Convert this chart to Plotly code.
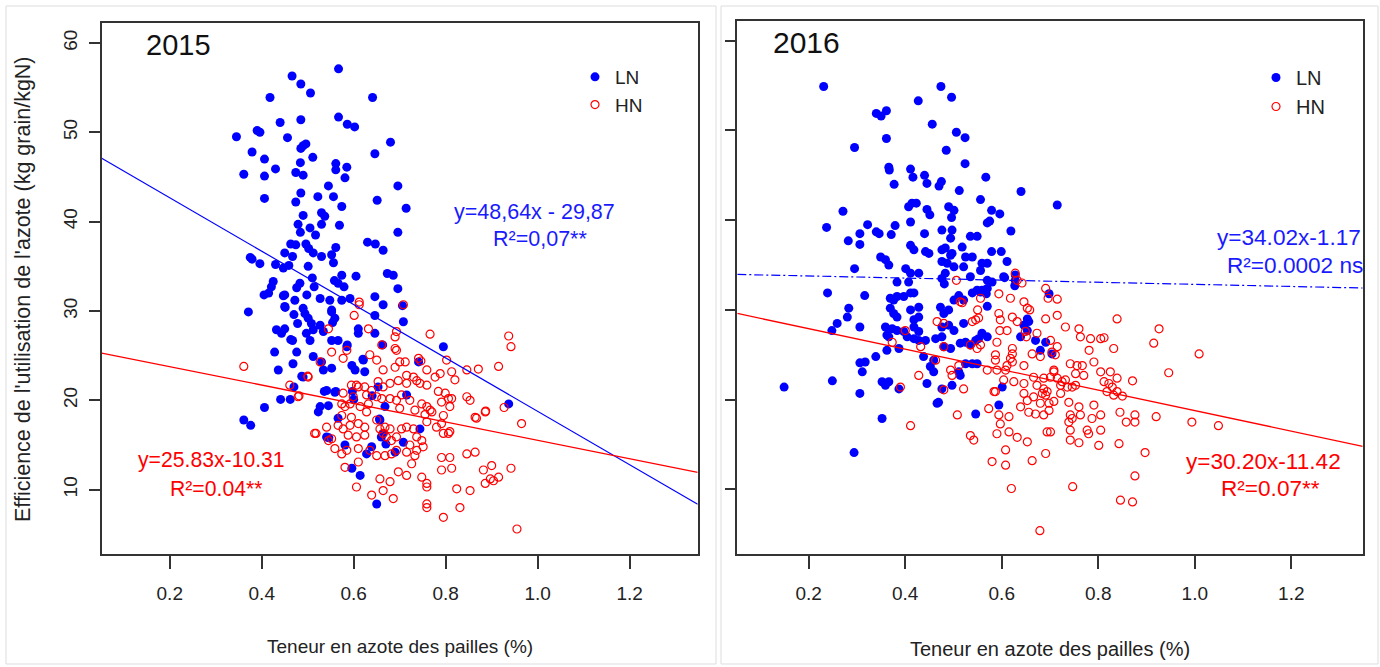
import plotly.graph_objects as go

# Nitrogen use efficiency vs straw N content, two seasons, LN / HN plots
ln_2015 = [
    (0.345, 49.5), (0.361, 45.3), (0.379, 47.8), (0.390, 50.2), (0.396, 50.0), (0.406, 47.0), (0.406, 45.1), (0.406, 42.6),
    (0.418, 53.9), (0.430, 45.9), (0.440, 51.1), (0.456, 49.4), (0.466, 56.3), (0.485, 55.4), (0.506, 54.4), (0.567, 57.1),
    (0.641, 53.9), (0.485, 51.4), (0.567, 51.7), (0.586, 50.9), (0.602, 50.6), (0.485, 48.2), (0.490, 48.5), (0.496, 48.7),
    (0.680, 48.9), (0.511, 47.2), (0.484, 46.6), (0.561, 46.5), (0.561, 45.8), (0.585, 46.1), (0.646, 47.6), (0.474, 45.5),
    (0.490, 45.2), (0.581, 44.9), (0.545, 44.0), (0.696, 44.0), (0.485, 43.2), (0.474, 42.2), (0.522, 42.8), (0.556, 42.8),
    (0.651, 42.4), (0.574, 41.7), (0.714, 41.5), (0.490, 40.7), (0.530, 41.0), (0.537, 40.6), (0.530, 39.7), (0.479, 39.7),
    (0.484, 38.8), (0.505, 39.3), (0.517, 38.5), (0.569, 39.6), (0.696, 38.8), (0.463, 37.5), (0.474, 37.4), (0.496, 37.5),
    (0.502, 37.0), (0.512, 36.5), (0.530, 36.1), (0.561, 37.1), (0.630, 37.7), (0.647, 37.5), (0.664, 36.8), (0.450, 36.5),
    (0.467, 36.1), (0.552, 36.3), (0.556, 35.4), (0.430, 35.2), (0.447, 34.8), (0.459, 35.1), (0.501, 35.0), (0.673, 34.2),
    (0.686, 34.0), (0.605, 33.9), (0.574, 34.0), (0.558, 33.4), (0.579, 32.7), (0.566, 33.1), (0.425, 33.3), (0.483, 33.1),
    (0.476, 32.6), (0.510, 33.7), (0.514, 32.7), (0.696, 32.5), (0.375, 36.0), (0.379, 35.8), (0.396, 35.3), (0.371, 29.9),
    (0.405, 31.8), (0.415, 32.0), (0.421, 32.7),
    (0.450, 31.8), (0.450, 30.5), (0.472, 31.2), (0.490, 30.3), (0.494, 29.7), (0.498, 31.8), (0.501, 29.2), (0.508, 28.6),
    (0.512, 27.9), (0.497, 27.5), (0.505, 26.7), (0.527, 31.4), (0.527, 28.4), (0.534, 27.7), (0.548, 31.2), (0.552, 29.9),
    (0.559, 29.2), (0.552, 26.7), (0.566, 26.7), (0.574, 31.2), (0.592, 31.4), (0.432, 27.9), (0.443, 27.5), (0.450, 28.0),
    (0.467, 26.7), (0.476, 25.4), (0.468, 24.1), (0.428, 25.4), (0.436, 23.4), (0.512, 24.9), (0.530, 24.3), (0.534, 23.4),
    (0.552, 23.6), (0.490, 22.6), (0.586, 26.2), (0.596, 23.9), (0.603, 23.4), (0.621, 24.5), (0.624, 23.2), (0.610, 28.0),
    (0.610, 27.5), (0.646, 27.5), (0.646, 29.5), (0.663, 26.2), (0.646, 31.6), (0.664, 30.7), (0.708, 28.8),
    (0.441, 20.1), (0.406, 19.2), (0.361, 17.8), (0.376, 17.2), (0.462, 20.1), (0.470, 21.5), (0.527, 19.3), (0.545, 19.4),
    (0.523, 18.7), (0.541, 21.1), (0.559, 20.9), (0.566, 18.0), (0.581, 15.0), (0.541, 15.9), (0.546, 15.8), (0.596, 12.4),
    (0.614, 11.6), (0.628, 14.0), (0.639, 14.8), (0.650, 8.4), (0.653, 21.5), (0.668, 19.3), (0.657, 17.8), (0.715, 20.6),
    (0.708, 15.3), (0.690, 14.2), (0.744, 16.8), (0.795, 26.0), (0.741, 24.3), (0.937, 19.6), (0.600, 20.1), (0.597, 21.0),
    (0.640, 20.5), (0.660, 15.9), (0.664, 16.3), (0.670, 15.1), (0.656, 17.9), (0.561, 21.0), (0.536, 21.0), (0.620, 24.6),
    (0.585, 26.0), (0.706, 30.6), (0.552, 30.1), (0.554, 28.7), (0.463, 26.8), (0.470, 29.6), (0.478, 28.6), (0.451, 30.4),
    (0.447, 31.7), (0.487, 22.7),
]

hn_2015 = [
    (0.361, 23.8), (0.461, 21.7), (0.481, 20.5), (0.500, 22.7), (0.518, 16.3),
    (0.612, 31.0), (0.612, 30.7), (0.601, 29.5), (0.708, 30.7), (0.632, 28.0), (0.545, 28.0), (0.693, 27.7), (0.690, 27.1),
    (0.766, 27.4), (0.661, 26.2), (0.690, 25.8), (0.693, 25.6), (0.585, 25.6), (0.577, 24.7), (0.552, 25.4), (0.635, 25.1),
    (0.650, 24.5), (0.527, 24.3), (0.712, 24.3), (0.700, 24.3), (0.741, 24.7), (0.746, 24.4), (0.802, 24.5), (0.846, 23.4),
    (0.871, 23.5), (0.915, 23.8), (0.664, 23.4), (0.690, 23.7), (0.715, 22.8), (0.730, 22.6), (0.759, 23.4), (0.777, 22.6),
    (0.788, 23.0), (0.813, 23.2), (0.820, 22.3), (0.501, 22.6), (0.479, 20.4), (0.606, 21.7), (0.610, 21.5), (0.595, 21.7),
    (0.624, 21.5), (0.639, 21.1), (0.628, 20.6), (0.653, 22.1), (0.664, 21.5), (0.679, 21.9), (0.697, 22.2), (0.715, 21.9),
    (0.737, 22.2), (0.744, 21.9), (0.759, 21.7), (0.784, 21.0), (0.799, 20.8), (0.806, 20.2), (0.813, 20.2), (0.846, 20.4),
    (0.853, 20.0), (0.577, 20.8), (0.599, 20.4), (0.592, 19.6), (0.574, 19.6), (0.581, 19.3), (0.614, 19.3), (0.628, 18.7),
    (0.632, 19.6), (0.650, 20.4), (0.661, 20.2), (0.679, 20.2), (0.693, 20.0), (0.704, 20.6), (0.700, 19.1), (0.722, 20.0),
    (0.733, 18.9), (0.748, 19.6), (0.759, 19.3), (0.766, 18.9), (0.755, 18.4), (0.770, 18.7), (0.791, 19.8), (0.795, 18.3),
    (0.809, 19.3), (0.864, 18.1), (0.886, 18.7), (0.759, 17.6), (0.780, 17.0), (0.791, 17.4), (0.795, 16.3), (0.806, 16.3),
    (0.809, 16.5), (0.515, 16.3), (0.541, 17.0), (0.545, 15.5), (0.552, 15.7), (0.574, 18.3), (0.595, 18.1), (0.610, 17.4),
    (0.624, 17.0), (0.566, 17.2), (0.577, 16.8), (0.592, 17.2), (0.588, 16.1), (0.606, 15.9), (0.624, 16.1), (0.650, 17.8),
    (0.657, 16.8), (0.668, 17.0), (0.679, 16.8), (0.664, 16.3), (0.671, 15.9), (0.682, 15.5), (0.693, 15.9), (0.704, 16.8),
    (0.715, 17.0), (0.730, 16.8), (0.737, 15.9), (0.748, 15.5), (0.722, 15.0), (0.737, 14.4), (0.751, 14.8), (0.733, 13.8),
    (0.559, 14.6), (0.574, 14.0), (0.585, 14.4), (0.610, 14.6), (0.635, 14.4), (0.650, 13.8), (0.668, 13.8), (0.682, 14.0),
    (0.693, 14.4), (0.715, 14.2), (0.610, 13.1), (0.581, 12.5), (0.657, 11.2), (0.679, 10.9), (0.697, 12.0), (0.715, 11.6),
    (0.606, 10.3), (0.664, 9.9), (0.639, 9.4), (0.686, 9.0), (0.726, 12.9), (0.748, 11.4), (0.759, 10.7), (0.759, 10.3),
    (0.759, 8.4), (0.759, 8.0), (0.795, 6.9), (0.831, 8.0), (0.791, 13.6), (0.809, 13.6), (0.813, 12.4), (0.791, 12.2),
    (0.824, 10.1), (0.853, 9.9), (0.882, 12.2), (0.900, 12.7), (0.904, 11.0), (0.886, 10.7), (0.915, 11.4), (0.897, 11.2),
    (0.846, 14.0), (0.864, 14.2), (0.937, 27.2), (0.942, 26.0), (0.927, 19.2), (0.965, 17.4), (0.942, 12.4),
    (0.955, 5.6), (0.887, 18.8), (0.867, 18.0),
]

ln_2016 = [
    (0.231, 54.9), (0.474, 54.9), (0.496, 53.7), (0.427, 53.3), (0.340, 51.9), (0.350, 51.6), (0.361, 52.2), (0.456, 50.7),
    (0.506, 49.8), (0.524, 49.2), (0.361, 49.1), (0.295, 48.1), (0.485, 47.8), (0.524, 46.3), (0.366, 45.9), (0.367, 45.6),
    (0.411, 45.7), (0.416, 44.8), (0.440, 45.0), (0.445, 44.1), (0.470, 43.8), (0.475, 44.3), (0.377, 44.0), (0.567, 44.8),
    (0.512, 43.3), (0.271, 41.0), (0.237, 39.2), (0.322, 39.5), (0.306, 38.5), (0.306, 37.3), (0.282, 37.7), (0.340, 38.7),
    (0.346, 38.5), (0.371, 38.4), (0.379, 39.4), (0.295, 34.6), (0.239, 31.9), (0.316, 31.6), (0.556, 42.3), (0.407, 41.5),
    (0.414, 41.9), (0.423, 41.9), (0.445, 41.2), (0.451, 40.6), (0.411, 39.8), (0.490, 41.5), (0.501, 41.1), (0.496, 40.3),
    (0.440, 38.5), (0.476, 38.9), (0.497, 38.9), (0.494, 38.0), (0.535, 38.2), (0.549, 38.2), (0.570, 39.7), (0.411, 37.2),
    (0.418, 36.7), (0.442, 36.5), (0.449, 36.3), (0.476, 36.7), (0.483, 36.9), (0.497, 36.3), (0.518, 37.0), (0.349, 35.9),
    (0.359, 35.6), (0.366, 35.0), (0.401, 34.6), (0.411, 34.1), (0.428, 34.1), (0.383, 33.1), (0.407, 33.1), (0.476, 35.4),
    (0.487, 35.2), (0.501, 34.8), (0.494, 36.1), (0.483, 34.1), (0.525, 35.9), (0.539, 35.9), (0.521, 34.8), (0.535, 33.7),
    (0.556, 34.4), (0.559, 35.2), (0.476, 33.5), (0.481, 32.9), (0.369, 31.3), (0.376, 31.1), (0.383, 31.5), (0.397, 31.5),
    (0.411, 31.9), (0.418, 31.9), (0.428, 30.3), (0.411, 30.0), (0.428, 29.2), (0.418, 28.9), (0.369, 30.2), (0.376, 29.6),
    (0.383, 29.2), (0.473, 30.3), (0.480, 29.6), (0.490, 30.0), (0.501, 31.1), (0.511, 31.6), (0.521, 31.1), (0.539, 31.9),
    (0.549, 32.2), (0.559, 32.2), (0.570, 32.4), (0.521, 28.5), (0.570, 35.2), (0.570, 33.3), (0.559, 27.4), (0.283, 30.2),
    (0.280, 29.2), (0.259, 28.5), (0.248, 27.7), (0.306, 28.1), (0.359, 28.1), (0.362, 27.2), (0.373, 27.9), (0.383, 27.7),
    (0.418, 28.1), (0.428, 27.6), (0.476, 28.1), (0.490, 28.3), (0.501, 27.7),
    (0.611, 35.4), (0.628, 33.9), (0.628, 33.3), (0.604, 33.7), (0.580, 33.1), (0.698, 31.8), (0.570, 30.4), (0.653, 29.0),
    (0.656, 28.7), (0.646, 28.3), (0.653, 27.7), (0.639, 27.0), (0.670, 26.6), (0.691, 26.4), (0.680, 25.5), (0.704, 25.1),
    (0.601, 21.4), (0.594, 19.4), (0.546, 18.4),
    (0.362, 25.5), (0.387, 25.7), (0.366, 27.0), (0.397, 27.6), (0.404, 27.0), (0.418, 26.8), (0.428, 26.6), (0.442, 26.6),
    (0.438, 24.8), (0.459, 24.4), (0.452, 23.7), (0.459, 23.1), (0.463, 26.8), (0.476, 27.0), (0.480, 25.9), (0.494, 25.7),
    (0.514, 26.3), (0.525, 26.4), (0.535, 26.1), (0.546, 26.6), (0.552, 26.8), (0.525, 24.0), (0.539, 24.0), (0.549, 24.0),
    (0.570, 27.0), (0.511, 23.1), (0.514, 22.7), (0.497, 21.6), (0.476, 21.2), (0.445, 21.8), (0.469, 19.7), (0.466, 19.6),
    (0.352, 22.0), (0.366, 22.0), (0.359, 21.6), (0.387, 21.2), (0.352, 17.9),
    (0.149, 21.4), (0.249, 22.1), (0.294, 14.1), (0.306, 20.7), (0.306, 24.1), (0.311, 23.1), (0.317, 24.2), (0.339, 24.8),
    (0.640, 43.2), (0.715, 41.7), (0.619, 38.8), (0.596, 40.7), (0.579, 41.1), (0.575, 39.9), (0.579, 36.5),
    (0.599, 36.5), (0.606, 33.6), (0.627, 32.7), (0.568, 31.8), (0.556, 32.0),
]

hn_2016 = [
    (0.628, 34.1), (0.632, 33.3), (0.642, 33.0), (0.506, 33.3), (0.691, 32.4), (0.696, 31.3), (0.715, 31.2), (0.594, 31.8),
    (0.618, 31.3), (0.556, 31.3), (0.514, 30.9), (0.646, 30.9), (0.653, 30.2), (0.658, 30.0), (0.715, 29.4), (0.691, 29.0),
    (0.839, 29.0), (0.594, 29.6), (0.597, 28.9), (0.596, 27.7), (0.611, 27.7), (0.622, 29.2), (0.632, 28.7), (0.546, 28.9),
    (0.552, 29.1), (0.539, 28.7), (0.466, 28.7), (0.480, 28.5), (0.400, 27.7), (0.732, 28.1), (0.760, 27.9), (0.763, 27.0),
    (0.784, 26.8), (0.805, 26.8), (0.812, 26.9), (0.673, 27.4), (0.649, 27.6), (0.651, 27.0), (0.590, 26.4), (0.701, 26.6),
    (0.715, 25.9), (0.704, 25.3), (0.711, 25.0), (0.781, 25.5), (0.791, 24.2), (0.832, 25.7), (0.622, 25.7), (0.622, 25.1),
    (0.618, 24.6), (0.622, 24.2), (0.611, 23.8), (0.587, 25.0), (0.587, 24.4), (0.663, 25.1), (0.680, 24.8), (0.556, 26.1),
    (0.549, 25.7), (0.535, 26.1), (0.480, 25.9), (0.432, 25.9), (0.373, 26.4), (0.463, 24.4), (0.511, 23.8), (0.494, 23.3),
    (0.497, 22.7), (0.570, 23.3), (0.590, 23.3), (0.608, 23.3), (0.646, 23.8), (0.708, 23.3), (0.742, 24.0), (0.756, 23.8),
    (0.767, 23.8), (0.753, 22.9), (0.770, 22.7), (0.805, 23.1), (0.825, 23.1), (0.839, 22.4), (0.428, 22.7), (0.390, 21.4),
    (0.521, 21.2), (0.584, 20.9), (0.604, 22.2), (0.625, 22.0), (0.646, 21.8), (0.666, 22.5), (0.687, 22.4), (0.701, 22.5),
    (0.708, 23.1), (0.715, 22.4), (0.725, 22.0), (0.732, 22.2), (0.673, 21.6), (0.687, 21.2), (0.694, 20.9), (0.684, 20.7),
    (0.691, 20.5), (0.722, 21.6), (0.736, 21.4), (0.746, 21.4), (0.753, 21.6), (0.812, 22.0), (0.822, 21.8), (0.829, 21.4),
    (0.839, 20.9), (0.818, 20.9), (0.832, 20.5), (0.646, 20.7), (0.587, 20.9), (0.573, 19.0), (0.480, 21.1), (0.653, 19.9),
    (0.666, 20.3), (0.680, 19.6), (0.698, 19.6), (0.708, 19.8), (0.722, 20.7), (0.639, 19.2), (0.656, 18.6), (0.670, 18.4),
    (0.687, 18.3), (0.698, 18.8), (0.739, 19.7), (0.742, 18.3), (0.760, 19.2), (0.791, 19.4), (0.805, 18.3), (0.787, 17.9),
    (0.763, 18.3), (0.746, 17.9), (0.739, 17.5), (0.742, 16.6), (0.694, 16.4), (0.701, 16.4), (0.777, 16.6), (0.780, 16.2),
    (0.805, 16.6), (0.742, 15.5), (0.760, 15.2), (0.801, 14.9), (0.843, 15.1), (0.508, 18.3), (0.411, 17.1), (0.594, 18.3),
    (0.597, 17.3), (0.615, 18.1), (0.535, 16.0), (0.542, 15.5), (0.590, 16.2), (0.615, 16.4), (0.632, 15.8), (0.653, 15.3),
    (0.608, 14.4), (0.580, 13.1), (0.608, 12.7), (0.663, 13.2), (0.691, 14.0), (0.620, 10.1), (0.747, 10.3), (0.846, 8.8),
    (0.679, 5.4),
    (0.915, 26.3), (0.926, 27.9), (1.009, 25.1), (0.946, 23.0), (0.871, 22.1), (0.850, 20.4), (0.845, 18.6), (0.876, 18.3),
    (0.876, 17.5), (0.920, 18.1), (0.994, 17.5), (1.049, 17.1), (0.897, 14.1), (0.876, 11.5), (0.871, 8.6), (0.858, 17.5),
    (0.518, 30.8), (0.550, 30.0),
]

# fitted lines: y = intercept - slope * x
fit_2015 = {"LN": (48.64, 29.87), "HN": (25.83, 10.31)}
fit_2016 = {"LN": (34.02, 1.17), "HN": (30.20, 11.42)}

x_range = [0.052, 1.348]
y_range = [2.8, 62.2]
x_ticks = [0.2, 0.4, 0.6, 0.8, 1.0, 1.2]
y_ticks = [10, 20, 30, 40, 50, 60]

FONT = "Liberation Sans, Arial, sans-serif"
BLUE = "#0000ff"
RED = "#ff0000"
W, H = 1380, 667

fig = go.Figure()


def add_panel(ln, hn, fit, xa, ya, leg, ln_dash):
    fig.add_trace(go.Scatter(
        x=[p[0] for p in ln], y=[p[1] for p in ln], mode="markers", name="LN",
        marker=dict(color=BLUE, size=9, line=dict(width=0)),
        xaxis=xa, yaxis=ya, legend=leg, hoverinfo="skip"))
    fig.add_trace(go.Scatter(
        x=[p[0] for p in hn], y=[p[1] for p in hn], mode="markers", name="HN",
        marker=dict(symbol="circle-open", color=RED, size=8, line=dict(width=1.2, color=RED)),
        xaxis=xa, yaxis=ya, legend=leg, hoverinfo="skip"))
    for key, color, dash, width in (("LN", BLUE, ln_dash, 1.2), ("HN", RED, "solid", 1.3)):
        a, b = fit[key]
        fig.add_trace(go.Scatter(
            x=x_range, y=[a - b * x for x in x_range], mode="lines",
            line=dict(color=color, width=width, dash=dash),
            xaxis=xa, yaxis=ya, showlegend=False, hoverinfo="skip"))


add_panel(ln_2015, hn_2015, fit_2015, "x", "y", "legend", "solid")
add_panel(ln_2016, hn_2016, fit_2016, "x2", "y2", "legend2", "9px,3px,2px,3px")

axis_common = dict(
    showline=True, mirror=True, linecolor="#333333", linewidth=1.5,
    showgrid=False, zeroline=False, ticks="outside", tickcolor="#333333",
    tickwidth=1.5, tickfont=dict(family=FONT, size=19, color="#222222"),
)

fig.update_layout(
    width=W, height=H, margin=dict(l=0, r=0, t=0, b=0),
    paper_bgcolor="white", plot_bgcolor="white",
    font=dict(family=FONT, color="#222222"),
    xaxis=dict(domain=[101.7 / W, 697.7 / W], range=x_range, tickvals=x_ticks,
               tickformat=".1f", ticklen=13, ticklabelstandoff=8, anchor="y", **axis_common),
    yaxis=dict(domain=[1 - 554 / H, 1 - 23.3 / H], range=y_range, tickvals=y_ticks,
               ticklen=11, tickangle=-90, ticklabelstandoff=4, anchor="x", **axis_common),
    xaxis2=dict(domain=[737.3 / W, 1362.7 / W], range=x_range, tickvals=x_ticks,
                tickformat=".1f", ticklen=13, ticklabelstandoff=8, anchor="y2", **axis_common),
    yaxis2=dict(domain=[1 - 554 / H, 1 - 21 / H], range=y_range, tickvals=y_ticks,
                ticklen=11, showticklabels=False, anchor="x2", **axis_common),
    legend=dict(x=575 / W, y=1 - 58 / H, xanchor="left", yanchor="top",
                bgcolor="rgba(0,0,0,0)", font=dict(family=FONT, size=19, color="#222222"),
                itemwidth=30, tracegroupgap=0),
    legend2=dict(x=1256 / W, y=1 - 58 / H, xanchor="left", yanchor="top",
                 bgcolor="rgba(0,0,0,0)", font=dict(family=FONT, size=20, color="#222222"),
                 itemwidth=30, tracegroupgap=0),
)


def label(text, px, py, size, color="#222222", angle=0):
    fig.add_annotation(text=text, x=px / W, y=1 - py / H, xref="paper", yref="paper",
                       xanchor="center", yanchor="middle", showarrow=False, textangle=angle,
                       font=dict(family=FONT, size=size, color=color))


label("2015", 178, 45, 29, "#111111")
label("2016", 807, 43, 30, "#111111")
label("y=48,64x - 29,87", 534, 212, 21.5, "#1a1aff")
label("R²=0,07**", 540, 239, 21.5, "#1a1aff")
label("y=25.83x-10.31", 211, 460, 21.2, RED)
label("R²=0.04**", 216, 488, 21.2, RED)
label("y=34.02x-1.17", 1289, 237, 22.6, "#1a1aff")
label("R²=0.0002 ns", 1295, 265, 22.6, "#1a1aff")
label("y=30.20x-11.42", 1263, 461, 22.6, RED)
label("R²=0.07**", 1270, 488, 22.6, RED)
label("Teneur en azote des pailles (%)", 400, 646, 19)
label("Teneur en azote des pailles (%)", 1050, 649, 20)
label("Efficience de l'utilisation de l'azote (kg grain/kgN)", 23, 289, 21.5, angle=-90)

# faint frames around each panel
for x0, x1 in ((6, 716), (721, 1378)):
    fig.add_shape(type="rect", xref="paper", yref="paper",
                  x0=x0 / W, x1=x1 / W, y0=1 - 664 / H, y1=1 - 6 / H,
                  line=dict(color="#dddddd", width=1), fillcolor="rgba(0,0,0,0)", layer="below")

fig.write_html("out.html")
